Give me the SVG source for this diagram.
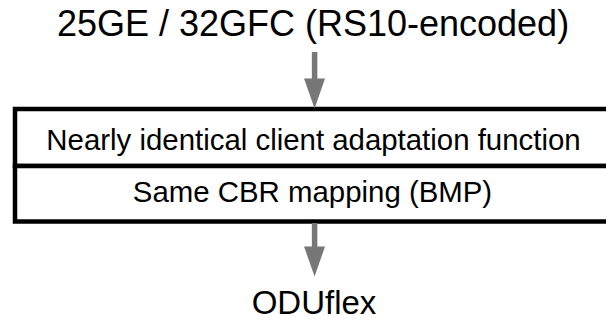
<svg xmlns="http://www.w3.org/2000/svg" width="606" height="320" viewBox="0 0 606 320">
<style>
text{font-family:"Liberation Sans",Arial,sans-serif;fill:#000;text-anchor:middle}
.box{fill:#fff;stroke:#000;stroke-width:4.5}
.shaft{stroke:#777;stroke-width:5.5;fill:none}
.head{fill:#777}
</style>
<rect width="606" height="320" fill="#fff"/>
<g id="input"><text x="313" y="36" font-size="36">25GE / 32GFC (RS10-encoded)</text></g>
<g id="adaptation">
<rect class="box" x="15" y="109" width="600" height="57"/>
<text x="313.5" y="150" font-size="29.4">Nearly identical client adaptation function</text>
</g>
<g id="mapping">
<rect class="box" x="15" y="166" width="600" height="55.5"/>
<text x="312.5" y="202" font-size="29.4">Same CBR mapping (BMP)</text>
</g>
<g id="output"><text x="314" y="314" font-size="33">ODUflex</text></g>
<g id="connectors">
<line class="shaft" x1="314.6" y1="52" x2="314.6" y2="80"/>
<polygon class="head" points="304,78.5 325,78.5 314.6,108.5"/>
<line class="shaft" x1="314.6" y1="223" x2="314.6" y2="248"/>
<polygon class="head" points="304,246.5 325,246.5 314.6,276.5"/>
</g>
</svg>
